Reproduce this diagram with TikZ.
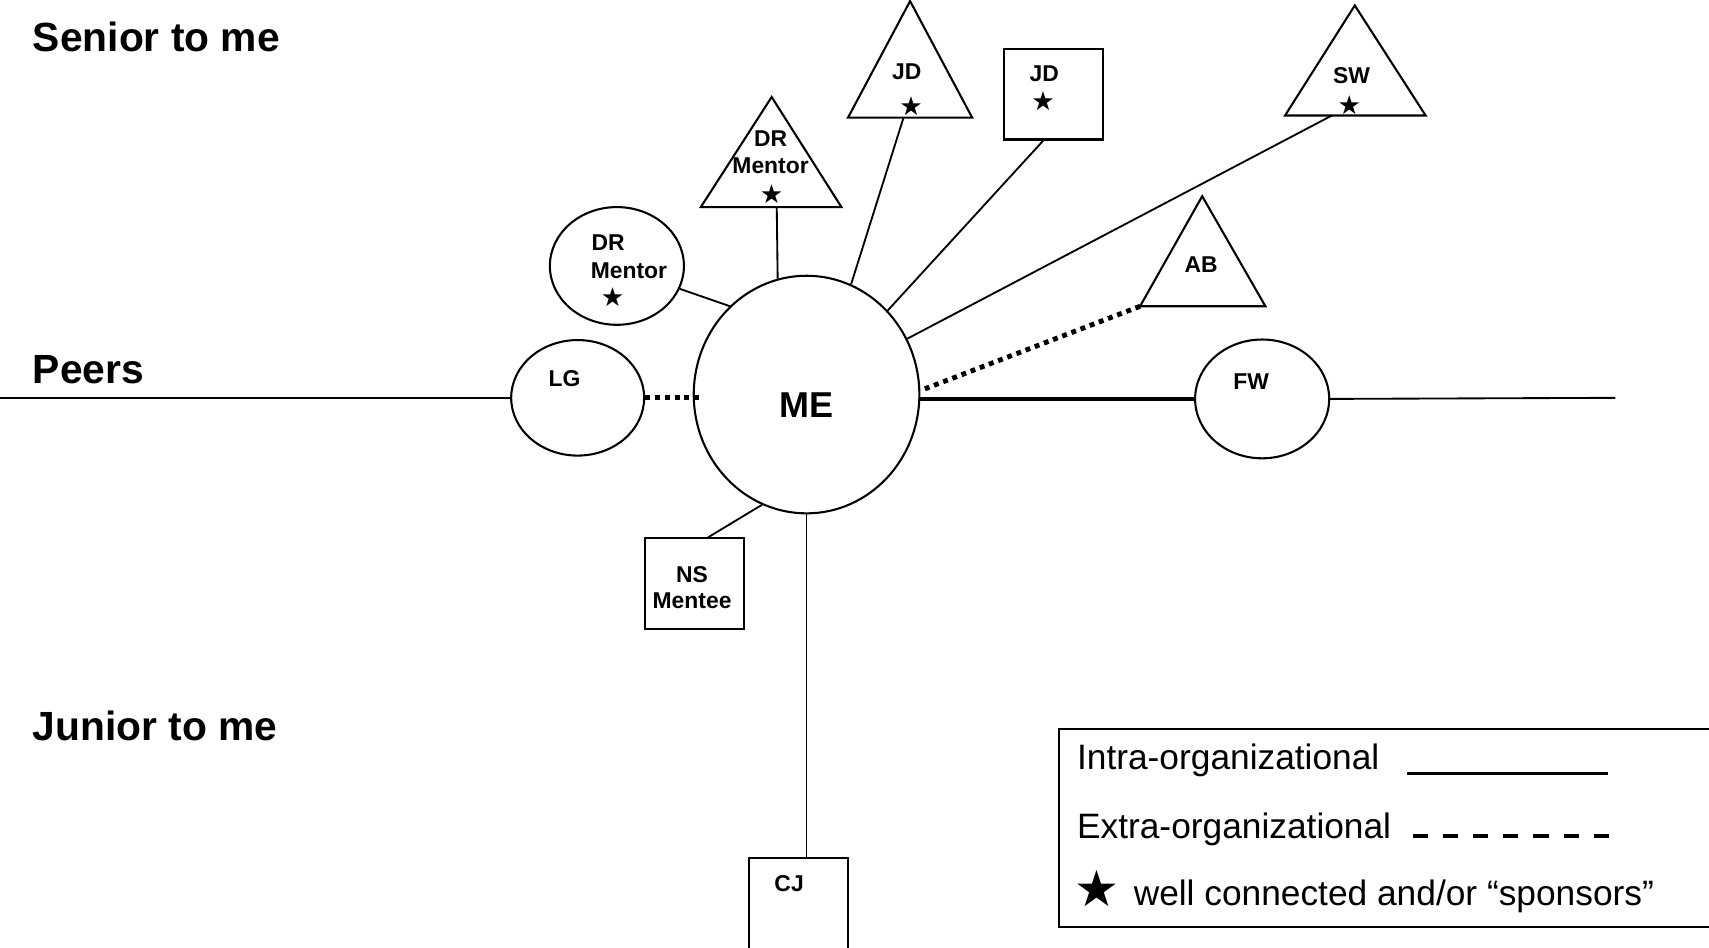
\documentclass[tikz,border=0pt]{standalone}
\usepackage{fontspec}
\setmainfont{Liberation Sans}
\newfontfamily\symfont{DejaVu Sans}
\usetikzlibrary{shapes.geometric,calc}
\begin{document}
\begin{tikzpicture}[x=1pt,y=-1pt,
  ent/.style={draw,line width=1.9,inner sep=0pt},
  lbl/.style={font=\fontsize{21}{23}\selectfont\bfseries,inner sep=0pt},
  big/.style={font=\fontsize{37.4}{40}\selectfont\bfseries,inner sep=0pt,anchor=base west},
  starmark/.style={font=\symfont\fontsize{24}{26}\selectfont,inner sep=0pt},
  leg/.style={font=\fontsize{32.4}{36}\selectfont,inner sep=0pt,anchor=base west},
  tie/.style={line width=1.7},
  ext/.style={line width=4.5,dash pattern=on 4.5 off 4.5}]
\useasboundingbox (0,0) rectangle (1568,869);
% level labels
\node[big] (senior) at (30,47) {Senior to me};
\node[big] (peers) at (30,352) {Peers};
\node[big] (junior) at (30,679) {Junior to me};
% ME
\node[ent,ellipse,minimum width=207,minimum height=218] (me) at (740,362) {};
\node[font=\fontsize{33}{36}\selectfont\bfseries,inner sep=0pt] (met) at (740,372) {ME};
% LG
\node[ent,ellipse,minimum width=122,minimum height=106] (lg) at (530,365) {};
\node[lbl] (lgt) at (518,347) {LG};
% DR circle
\node[ent,ellipse,minimum width=123,minimum height=108] (drc) at (566,244) {};
\node[lbl] (drc1) at (558,223) {DR};
\node[lbl] (drc2) at (577,248) {Mentor};
\node[starmark] (drcs) at (562,273) {★};
% FW
\node[ent,ellipse,minimum width=123,minimum height=109] (fw) at (1158,366) {};
\node[lbl] (fwt) at (1148,350) {FW};
% squares
\node[ent,rectangle,minimum width=91,minimum height=83] (jds) at (966.5,86.5) {};
\node[lbl] (jds1) at (958,68) {JD};
\node[starmark] (jdss) at (957,93) {★};
\node[ent,rectangle,minimum width=91,minimum height=83] (ns) at (637.5,535.5) {};
\node[lbl] (ns1) at (635,527) {NS};
\node[lbl] (ns2) at (635,551) {Mentee};
\node[ent,rectangle,minimum width=91,minimum height=100] (cj) at (732.5,837) {};
\node[lbl] (cj1) at (724,811) {CJ};
% triangles
\coordinate (drt-a) at (708,89); \coordinate (drt-l) at (643,190); \coordinate (drt-r) at (772,190);
\coordinate (jdt-a) at (835,1); \coordinate (jdt-l) at (778,108); \coordinate (jdt-r) at (892,108);
\coordinate (sw-a) at (1243,5); \coordinate (sw-l) at (1179,106); \coordinate (sw-r) at (1308,106);
\coordinate (ab-a) at (1103,180); \coordinate (ab-l) at (1046,281); \coordinate (ab-r) at (1161,281);
\draw[ent] (drt-a) -- (drt-l) -- (drt-r) -- cycle;
\draw[ent] (jdt-a) -- (jdt-l) -- (jdt-r) -- cycle;
\draw[ent] (sw-a) -- (sw-l) -- (sw-r) -- cycle;
\draw[ent] (ab-a) -- (ab-l) -- (ab-r) -- cycle;
\node[lbl] (drt1) at (707,127) {DR};
\node[lbl] (drt2) at (707,152) {Mentor};
\node[starmark] (drts) at (708,178) {★};
\node[lbl] (jdt1) at (832,66) {JD};
\node[starmark] (jdts) at (836,97) {★};
\node[lbl] (sw1) at (1240,69) {SW};
\node[starmark] (sws) at (1238,96) {★};
\node[lbl] (ab1) at (1102,243) {AB};
% connector anchor points
\coordinate (drtb) at ($(drt-l)!0.54!(drt-r)$);
\coordinate (jdtb) at ($(jdt-l)!0.447!(jdt-r)$);
\coordinate (swb) at ($(sw-l)!0.333!(sw-r)$);
\coordinate (jdsb) at ($(jds.south west)!0.4!(jds.south east)$);
\coordinate (nsb) at ($(ns.north west)!0.63!(ns.north east)$);
\coordinate (leftend) at (0,365);
\coordinate (rightend) at (1482,365);
\coordinate (lgme) at ($(lg.east)+(52,0)$);
% connectors
\draw[tie] (leftend) -- (lg.west);
\draw[tie] (fw.east) -- (rightend);
\draw[ext] (lg.east) -- (lgme);
\draw[tie] (drc.-20) -- (me.131);
\draw[tie] (drtb) -- (me.104.4);
\draw[tie] (jdtb) -- (me.68.4);
\draw[tie] (jdsb) -- (me.46);
\draw[tie] (swb) -- (me.29);
\draw[ext] (ab-l) -- (me.2);
\draw[line width=3] (me.east |- fw.west) -- (fw.west);
\draw[tie] (nsb) -- (me.-112);
\draw[tie] (me.south) -- (me.south |- cj.north);
% legend
\node[draw,line width=1.5,minimum width=640,minimum height=182,anchor=north west,inner sep=0pt] (legend) at (971,668) {};
\node[leg] (leg1) at (988,706) {Intra-organizational};
\node[leg] (leg2) at (988,769) {Extra-organizational};
\node[font=\symfont\fontsize{46}{48}\selectfont,inner sep=0pt] (leg3s) at (1006,815) {★};
\node[leg] (leg3) at (1040,831) {well connected and/or “sponsors”};
\coordinate (i1) at (1291,710); \coordinate (i2) at (1475,710);
\coordinate (e1) at (1296,767); \coordinate (e2) at (1476,767);
\draw[line width=2.5] (i1) -- (i2);
\draw[line width=4,dash pattern=on 14 off 13.7] (e1) -- (e2);
\end{tikzpicture}
\end{document}
